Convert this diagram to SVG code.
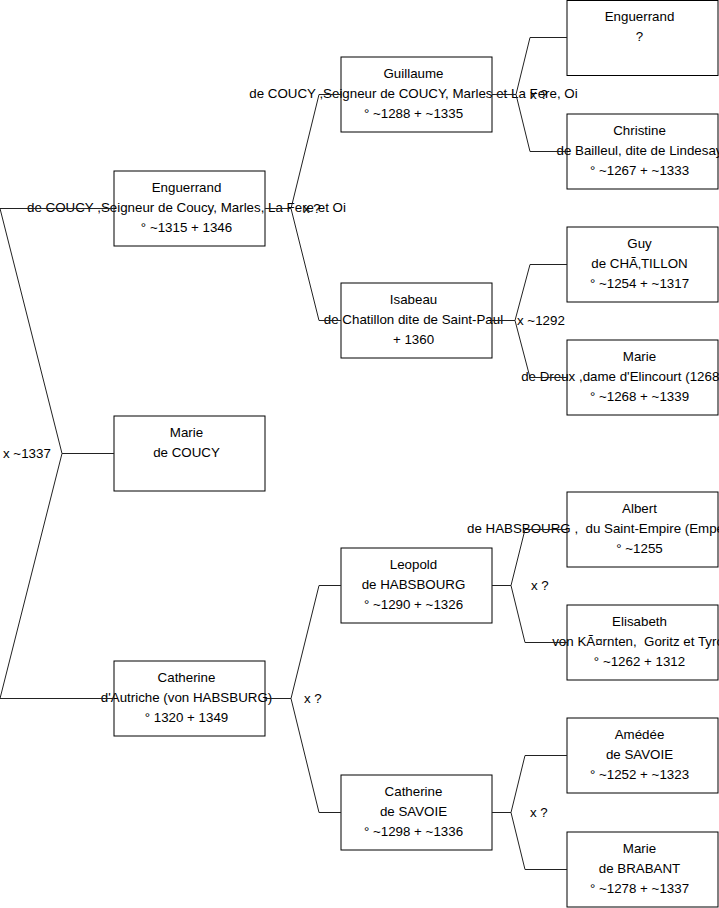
<svg xmlns="http://www.w3.org/2000/svg" width="719" height="908" viewBox="0 0 719 908">
<style>
text{font-family:"Liberation Sans",Arial,sans-serif;font-size:13.33px;fill:#000;white-space:pre}
.c{text-anchor:middle}
rect{fill:none;stroke:#000;stroke-width:1}
.conn path{fill:none;stroke:#222;stroke-width:1}
</style>
<rect x="0" y="0" width="719" height="908" style="fill:#fff;stroke:none"/>
<g id="n-enguerrand1"><text class="c" x="186.5" y="192">Enguerrand</text><text class="c" x="186.5" y="212">de COUCY ,Seigneur de Coucy, Marles, La Fere et Oi</text><text class="c" x="186.5" y="232">° ~1315 + 1346</text><rect x="114" y="171" width="151" height="75"/></g>
<g id="n-marie1"><text class="c" x="186.5" y="437">Marie</text><text class="c" x="186.5" y="457">de COUCY</text><rect x="114" y="416" width="151" height="75"/></g>
<g id="n-catherine1"><text class="c" x="186.5" y="682">Catherine</text><text class="c" x="186.5" y="702">d'Autriche (von HABSBURG)</text><text class="c" x="186.5" y="722">° 1320 + 1349</text><rect x="114" y="661" width="151" height="75"/></g>
<g id="n-guillaume"><text class="c" x="413.5" y="78">Guillaume</text><text class="c" x="413.5" y="98">de COUCY ,Seigneur de COUCY, Marles et La Fere, Oi</text><text class="c" x="413.5" y="118">° ~1288 + ~1335</text><rect x="341" y="57" width="151" height="75"/></g>
<g id="n-isabeau"><text class="c" x="413.5" y="304">Isabeau</text><text class="c" x="413.5" y="324">de Chatillon dite de Saint-Paul</text><text class="c" x="413.5" y="344">+ 1360</text><rect x="341" y="283" width="151" height="75"/></g>
<g id="n-leopold"><text class="c" x="413.5" y="569">Leopold</text><text class="c" x="413.5" y="589">de HABSBOURG</text><text class="c" x="413.5" y="609">° ~1290 + ~1326</text><rect x="341" y="548" width="151" height="75"/></g>
<g id="n-catherine2"><text class="c" x="413.5" y="796">Catherine</text><text class="c" x="413.5" y="816">de SAVOIE</text><text class="c" x="413.5" y="836">° ~1298 + ~1336</text><rect x="341" y="775" width="151" height="75"/></g>
<g id="n-enguerrand2"><text class="c" x="639.5" y="21">Enguerrand</text><text class="c" x="639.5" y="41">?</text><rect x="567" y="0.5" width="151" height="75"/></g>
<g id="n-christine"><text class="c" x="639.5" y="135">Christine</text><text class="c" x="639.5" y="155">de Bailleul, dite de Lindesay</text><text class="c" x="639.5" y="175">° ~1267 + ~1333</text><rect x="567" y="114" width="151" height="75"/></g>
<g id="n-guy"><text class="c" x="639.5" y="248">Guy</text><text class="c" x="639.5" y="268">de CHÃ‚TILLON</text><text class="c" x="639.5" y="288">° ~1254 + ~1317</text><rect x="567" y="227" width="151" height="75"/></g>
<g id="n-marie2"><text class="c" x="639.5" y="361">Marie</text><text class="c" x="639.5" y="381">de Dreux ,dame d'Elincourt (1268-1339)</text><text class="c" x="639.5" y="401">° ~1268 + ~1339</text><rect x="567" y="340" width="151" height="75"/></g>
<g id="n-albert"><text class="c" x="639.5" y="513">Albert</text><text x="467" y="533">de HABSBOURG ,  du Saint-Empire (Empe</text><text class="c" x="639.5" y="553">° ~1255</text><rect x="567" y="492" width="151" height="75"/></g>
<g id="n-elisabeth"><text class="c" x="639.5" y="626">Elisabeth</text><text class="c" x="639.5" y="646">von KÃ¤rnten,  Goritz et Tyrol</text><text class="c" x="639.5" y="666">° ~1262 + 1312</text><rect x="567" y="605" width="151" height="75"/></g>
<g id="n-amedee"><text class="c" x="639.5" y="739">Amédée</text><text class="c" x="639.5" y="759">de SAVOIE</text><text class="c" x="639.5" y="779">° ~1252 + ~1323</text><rect x="567" y="718" width="151" height="75"/></g>
<g id="n-marie3"><text class="c" x="639.5" y="853">Marie</text><text class="c" x="639.5" y="873">de BRABANT</text><text class="c" x="639.5" y="893">° ~1278 + ~1337</text><rect x="567" y="832" width="151" height="75"/></g>
<g id="connectors" class="conn">
<path d="M0,208.5 H114 M0,208.5 L62,453.5 L0,698.5 H114 M62,453.5 H114"/>
<path d="M265,208.5 H291 M341,94.5 H319 L291,208.5 L319,320.5 H341"/>
<path d="M265,698.5 H291 M341,585.5 H319 L291,698.5 L319,812.5 H341"/>
<path d="M492,94.5 H516 M567,37.5 H530 L516,94.5 L530,151.5 H567"/>
<path d="M492,320.5 H515 M567,264.5 H530 L515,320.5 L530,377.5 H567"/>
<path d="M492,585.5 H511 M567,529.5 H525 L511,585.5 L525,642.5 H567"/>
<path d="M492,812.5 H511 M567,755.5 H525 L511,812.5 L525,869.5 H567"/>
<text x="3" y="458">x ~1337</text>
<text x="303" y="213">x ?</text>
<text x="304" y="703">x ?</text>
<text x="530" y="99">x ?</text>
<text x="517" y="325">x ~1292</text>
<text x="531" y="590">x ?</text>
<text x="530" y="817">x ?</text>
</g>
</svg>
